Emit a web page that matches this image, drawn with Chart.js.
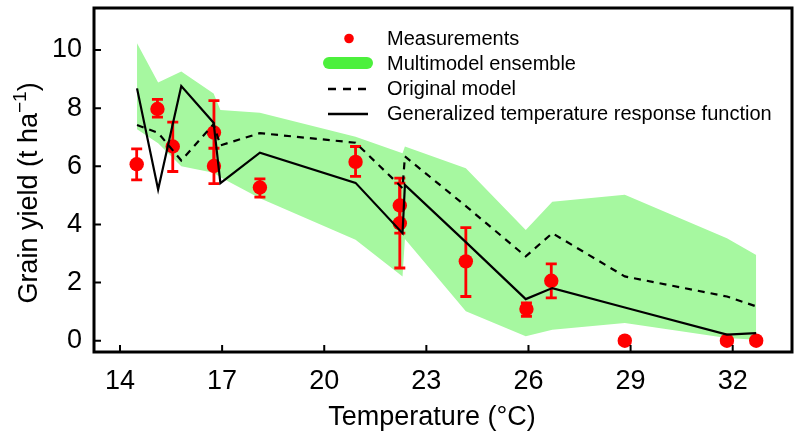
<!DOCTYPE html>
<html><head><meta charset="utf-8">
<script src="https://cdn.jsdelivr.net/npm/chart.js@4.4.1/dist/chart.umd.min.js"></script>
<style>html,body{margin:0;background:#fff}#c{display:block}</style>
</head><body>
<canvas id="c" width="800" height="440"></canvas>
<script>
/* ===== data ===== */
const xTicks = [14, 17, 20, 23, 26, 29, 32];
const yTicks = [0, 2, 4, 6, 8, 10];

// measurements (points + error bars)
const measX  = [14.49, 15.10, 15.55, 16.76, 16.76, 18.11, 20.92, 22.22, 22.22, 24.16, 25.94, 26.67, 28.83, 31.83, 32.69];
const measY  = [6.07, 7.97, 6.68, 7.16, 6.01, 5.27, 6.15, 4.65, 4.04, 2.73, 1.09, 2.06, 0, 0, 0];
const measLo = [5.53, 7.69, 5.82, 6.06, 5.40, 4.94, 5.65, 3.70, 2.50, 1.52, 0.84, 1.47, 0, 0, 0];
const measHi = [6.60, 8.30, 7.52, 8.26, 6.62, 5.57, 6.68, 5.59, 5.42, 3.89, 1.30, 2.64, 0, 0, 0];

// model curves
const modelX   = [14.50, 15.12, 15.80, 16.75, 16.95, 18.11, 20.92, 22.30, 22.37, 24.16, 25.92, 26.70, 28.83, 31.83, 32.69];
const ensUpper = [10.23, 8.88, 9.26, 8.50, 7.94, 7.84, 7.02, 6.45, 6.68, 5.93, 3.81, 4.78, 5.02, 3.52, 2.95];
const ensLower = [7.27, 6.79, 6.00, 5.78, 5.62, 4.90, 3.47, 2.21, 3.50, 1.01, 0.15, 0.38, 0.61, 0.09, 0.03];
const origModel = [7.42, 7.15, 6.20, 7.45, 6.72, 7.14, 6.81, 5.25, 6.34, 4.63, 2.90, 3.70, 2.21, 1.52, 1.18];
const gtrf      = [8.68, 5.20, 8.76, 7.50, 5.42, 6.47, 5.43, 3.70, 5.36, 3.39, 1.43, 1.81, 1.14, 0.21, 0.26];

const legendLabels = ['Measurements', 'Multimodel ensemble', 'Original model', 'Generalized temperature response function'];

/* ===== styling ===== */
const FONT = '"Liberation Sans", Arial, sans-serif';
const RED = '#ff0000', BAND = '#a6f8a0', BAND_KEY = '#4cf03c';
const DASH = [7, 6];
const pts = (xs, ys) => xs.map((x, i) => ({x, y: ys[i]}));

/* ===== drawing helpers (plugin) ===== */
const decor = {
  id: 'decor',
  beforeDatasetDraw(chart, args) {
    if (args.index !== 4) return;               // error bars under the red points
    const {ctx, scales: {x, y}} = chart;
    ctx.save();
    ctx.strokeStyle = RED; ctx.lineWidth = 2.8;
    measX.forEach((v, i) => {
      if (measHi[i] === measLo[i]) return;
      const px = x.getPixelForValue(v), pl = y.getPixelForValue(measLo[i]), ph = y.getPixelForValue(measHi[i]);
      ctx.beginPath();
      ctx.moveTo(px, pl); ctx.lineTo(px, ph);
      ctx.moveTo(px - 5.5, pl); ctx.lineTo(px + 5.5, pl);
      ctx.moveTo(px - 5.5, ph); ctx.lineTo(px + 5.5, ph);
      ctx.stroke();
    });
    ctx.restore();
  },
  afterDraw(chart) {
    const {ctx, chartArea: a, scales: {x, y}} = chart;
    ctx.save();
    // inward ticks
    ctx.strokeStyle = '#000'; ctx.lineWidth = 2;
    ctx.beginPath();
    xTicks.forEach(v => { const p = x.getPixelForValue(v); ctx.moveTo(p, a.bottom); ctx.lineTo(p, a.bottom - 7); });
    yTicks.forEach(v => { const p = y.getPixelForValue(v); ctx.moveTo(a.left, p); ctx.lineTo(a.left + 7, p); });
    ctx.stroke();
    // frame
    ctx.lineWidth = 3;
    ctx.strokeRect(a.left, a.top, a.right - a.left, a.bottom - a.top);

    // axis titles
    ctx.fillStyle = '#000';
    ctx.font = '27px ' + FONT; ctx.textBaseline = 'alphabetic'; ctx.textAlign = 'center';
    ctx.fillText('Temperature (°C)', 432, 425);

    const t1 = 'Grain yield (t ha', t2 = '\u22121', t3 = ')';
    ctx.font = '27px ' + FONT; const w1 = ctx.measureText(t1).width, w3 = ctx.measureText(t3).width;
    ctx.font = '19px ' + FONT; const w2 = ctx.measureText(t2).width;
    const tot = w1 + w2 + w3;
    ctx.translate(37, 193 + tot / 2); ctx.rotate(-Math.PI / 2);
    ctx.textAlign = 'left';
    ctx.font = '27px ' + FONT; ctx.fillText(t1, 0, 0);
    ctx.font = '19px ' + FONT; ctx.fillText(t2, w1, -11);
    ctx.font = '27px ' + FONT; ctx.fillText(t3, w1 + w2, 0);
    ctx.setTransform(1, 0, 0, 1, 0, 0);
    ctx.restore();

    // legend
    ctx.save();
    const rows = [45, 70, 95, 120];
    ctx.fillStyle = RED;
    ctx.beginPath(); ctx.arc(349, rows[0] - 6.5, 4.8, 0, Math.PI * 2); ctx.fill();
    ctx.strokeStyle = BAND_KEY; ctx.lineWidth = 12; ctx.lineCap = 'round';
    ctx.beginPath(); ctx.moveTo(329, rows[1] - 7); ctx.lineTo(367, rows[1] - 7); ctx.stroke();
    ctx.lineCap = 'butt'; ctx.strokeStyle = '#000'; ctx.lineWidth = 2.4;
    ctx.setLineDash([8, 7]);
    ctx.beginPath(); ctx.moveTo(328, rows[2] - 6); ctx.lineTo(367, rows[2] - 6); ctx.stroke();
    ctx.setLineDash([]);
    ctx.beginPath(); ctx.moveTo(328, rows[3] - 6); ctx.lineTo(368, rows[3] - 6); ctx.stroke();
    ctx.fillStyle = '#000'; ctx.font = '20px ' + FONT; ctx.textAlign = 'left'; ctx.textBaseline = 'alphabetic';
    legendLabels.forEach((s, i) => ctx.fillText(s, 387, rows[i]));
    ctx.restore();
  }
};

/* ===== chart ===== */
const tickFont = {family: FONT, size: 27};
new Chart(document.getElementById('c'), {
  type: 'line',
  data: {
    datasets: [
      {data: pts(modelX, ensUpper), borderColor: 'transparent', backgroundColor: BAND, fill: '+1', pointRadius: 0, order: 4},
      {data: pts(modelX, ensLower), borderColor: 'transparent', fill: false, pointRadius: 0, order: 5},
      {data: pts(modelX, origModel), borderColor: '#000', borderWidth: 2.2, borderDash: DASH, fill: false, pointRadius: 0, order: 2},
      {data: pts(modelX, gtrf), borderColor: '#000', borderWidth: 2.2, fill: false, pointRadius: 0, order: 1},
      {data: pts(measX, measY), showLine: false, pointRadius: 7.2, pointBackgroundColor: RED, pointBorderWidth: 0, order: 3}
    ]
  },
  options: {
    responsive: false, animation: false,
    layout: {padding: {left: 0, right: 8, top: 8, bottom: 0}},
    plugins: {legend: {display: false}, tooltip: {enabled: false}},
    scales: {
      x: {
        type: 'linear', min: 13.236, max: 33.742,
        grid: {display: false, drawTicks: false, tickLength: 0}, border: {display: false},
        ticks: {font: tickFont, color: '#000', padding: 13, autoSkip: false, maxRotation: 0},
        afterBuildTicks: s => { s.ticks = xTicks.map(v => ({value: v})); },
        afterFit: s => { s.height = 88; s.paddingLeft = 0; s.paddingRight = 0; }
      },
      y: {
        type: 'linear', min: -0.389, max: 11.445,
        grid: {display: false, drawTicks: false, tickLength: 0}, border: {display: false},
        ticks: {font: tickFont, color: '#000', padding: 12},
        afterBuildTicks: s => { s.ticks = yTicks.map(v => ({value: v})); },
        afterFit: s => { s.width = 94; s.paddingTop = 0; s.paddingBottom = 0; }
      }
    }
  },
  plugins: [decor]
});
</script>
</body></html>
